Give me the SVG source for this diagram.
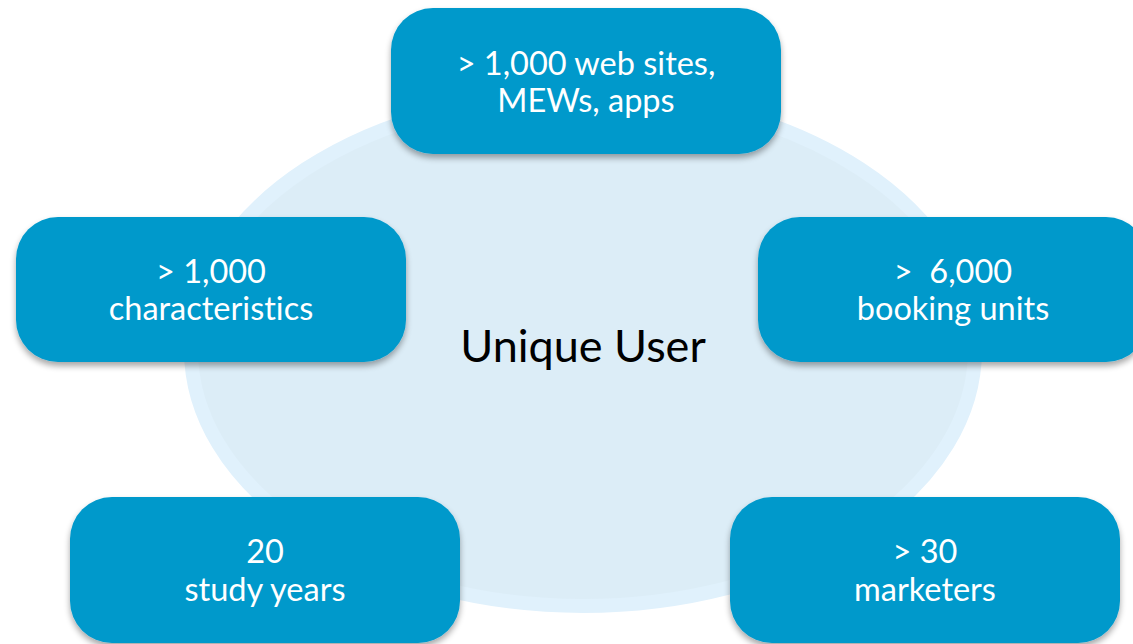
<svg xmlns="http://www.w3.org/2000/svg" width="1133" height="644" viewBox="0 0 1133 644">
<defs>
<filter id="sh" x="-10%" y="-10%" width="120%" height="130%">
<feGaussianBlur in="SourceAlpha" stdDeviation="3"/>
<feOffset dx="0" dy="4" result="b"/>
<feComponentTransfer><feFuncA type="linear" slope="0.35"/></feComponentTransfer>
<feMerge><feMergeNode/><feMergeNode in="SourceGraphic"/></feMerge>
</filter>
<style>
.box{fill:#0099CB;filter:url(#sh)}
.t{font-family:Lato,"Noto Sans",sans-serif;font-size:32.5px;fill:#FFFFFF;text-anchor:middle;font-variant-ligatures:none}
.c{font-family:Lato,"Noto Sans",sans-serif;font-size:45px;fill:#000000;text-anchor:middle}
</style>
</defs>
<rect width="1133" height="644" fill="#FFFFFF"/>
<g id="center">
<ellipse cx="583" cy="350" rx="392" ry="256" fill="#DCEDF7" stroke="#E0F1FC" stroke-width="14"/>
<text class="c" x="583" y="362">Unique User</text>
</g>
<g id="connectors"></g>
<g id="n-top">
<rect class="box" x="391" y="8" width="390" height="146" rx="42"/>
<text class="t" x="586" y="75">&gt; 1,000 web sites,</text>
<text class="t" x="586" y="112">MEWs, apps</text>
</g>
<g id="n-left">
<rect class="box" x="16" y="217" width="390" height="145" rx="42"/>
<text class="t" x="211" y="283">&gt; 1,000</text>
<text class="t" x="211" y="320">characteristics</text>
</g>
<g id="n-right">
<rect class="box" x="758" y="217" width="390" height="145" rx="42"/>
<text class="t" x="953" y="283" xml:space="preserve">&gt;  6,000</text>
<text class="t" x="953" y="320">booking units</text>
</g>
<g id="n-bl">
<rect class="box" x="70" y="497" width="390" height="146" rx="42"/>
<text class="t" x="265" y="563">20</text>
<text class="t" x="265" y="601">study years</text>
</g>
<g id="n-br">
<rect class="box" x="730" y="497" width="390" height="146" rx="42"/>
<text class="t" x="925" y="563">&gt; 30</text>
<text class="t" x="925" y="601">marketers</text>
</g>
</svg>
